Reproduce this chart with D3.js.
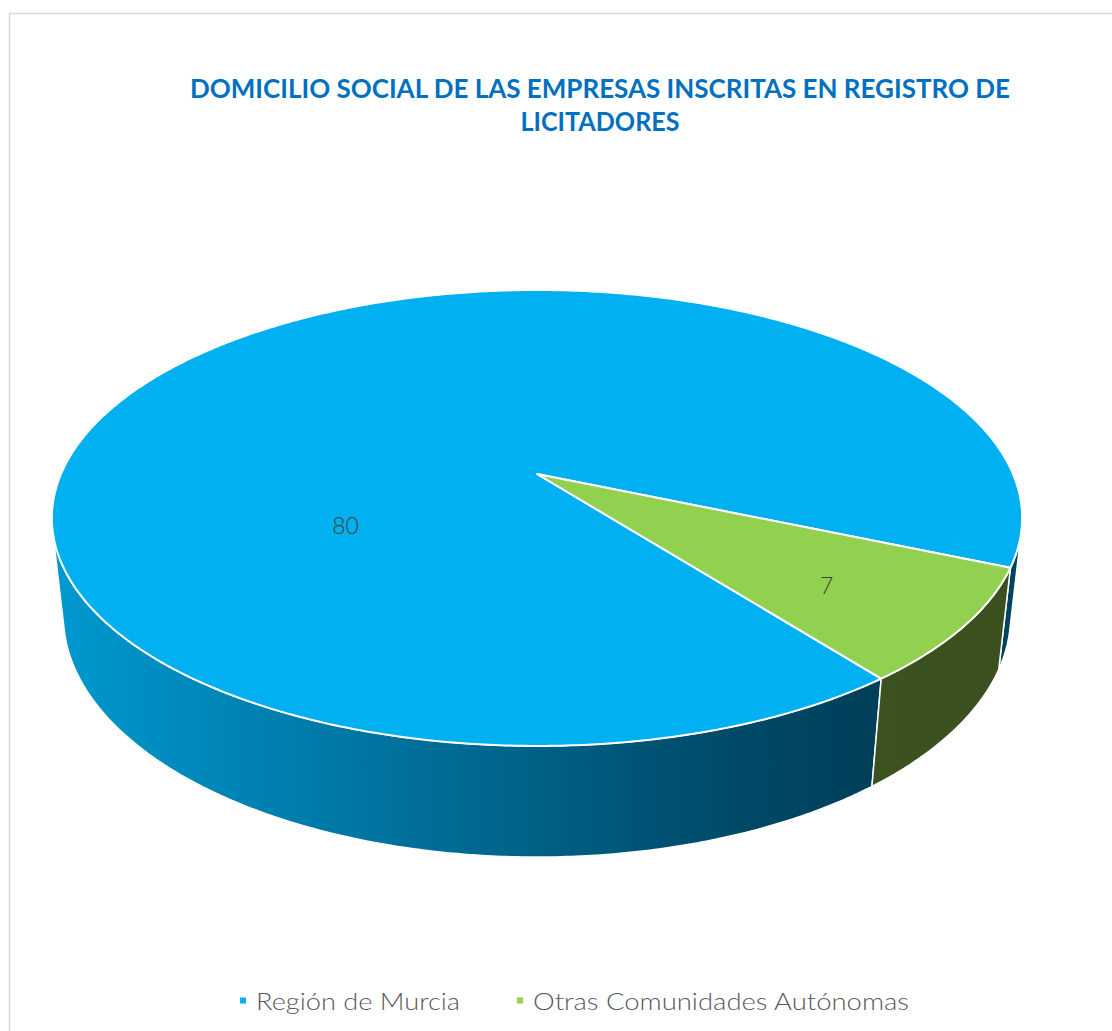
<!DOCTYPE html>
<html>
<head>
<meta charset="utf-8">
<script src="https://cdn.jsdelivr.net/npm/d3@7"></script>
<style>
  body { margin: 0; background: #fff; }
  text { font-family: Lato, "Open Sans", sans-serif; }
</style>
</head>
<body>
<div id="chart"></div>
<script>
// data
const categories = ["Región de Murcia", "Otras Comunidades Autónomas"];
const values = [80, 7];
const topColors = ["#00B0F0", "#92D050"];
const titleLines = ["DOMICILIO SOCIAL DE LAS EMPRESAS INSCRITAS EN REGISTRO DE", "LICITADORES"];

const width = 1112, height = 1031;
const rad = Math.PI / 180;

// 3d camera for the pie
const cx = 537, cy = 474;
const sinE = 0.4611, cosE = Math.sqrt(1 - sinE * sinE);
const dist = 4.6, focal = 476 * dist, depth = 0.2336;

function project(a, r, y)
{
    const u = r * Math.sin(a), v = -r * Math.cos(a);
    const yc = y * cosE - v * sinE;
    const zc = dist - (y * sinE + v * cosE);
    return [cx + focal * u / zc, cy - focal * yc / zc];
}

// side faces the camera where v > 1/(dist*cosE)
const edge = Math.acos(1 / (dist * cosE));
const visLo = Math.PI - edge, visHi = Math.PI + edge;

const svg = d3.select("#chart").append("svg")
    .attr("width", width)
    .attr("height", height);

// chart frame
svg.append("rect")
    .attr("x", 9.5).attr("y", 13.5)
    .attr("width", 1300).attr("height", 1200)
    .attr("fill", "none")
    .attr("stroke", "#d9d9d9")
    .attr("stroke-width", 1.5);

const defs = svg.append("defs");
const blueGrad = defs.append("linearGradient")
    .attr("id", "side0")
    .attr("gradientUnits", "userSpaceOnUse")
    .attr("x1", 52).attr("x2", 1022).attr("y1", 0).attr("y2", 0);
[[0, "#0099d0"], [0.35, "#00729e"], [0.67, "#004d6c"], [0.85, "#003f59"], [1, "#00445f"]]
    .forEach(s => blueGrad.append("stop").attr("offset", s[0]).attr("stop-color", s[1]));
const greenGrad = defs.append("linearGradient")
    .attr("id", "side1")
    .attr("gradientUnits", "userSpaceOnUse")
    .attr("x1", 52).attr("x2", 1022).attr("y1", 0).attr("y2", 0);
[[0, "#405a24"], [1, "#3a511f"]]
    .forEach(s => greenGrad.append("stop").attr("offset", s[0]).attr("stop-color", s[1]));

const start = 142.2 * rad;
const pie = d3.pie().sort(null).startAngle(start).endAngle(start + 2 * Math.PI);
const arcs = pie(values);

function arcPoints(a0, a1, y)
{
    const n = Math.max(2, Math.ceil(Math.abs(a1 - a0) / (0.5 * rad)));
    return d3.range(n + 1).map(i => project(a0 + (a1 - a0) * i / n, 1, y));
}

// side walls
arcs.forEach((d, i) =>
{
    [0, 2 * Math.PI].forEach(shift =>
    {
        const a0 = Math.max(d.startAngle, visLo + shift);
        const a1 = Math.min(d.endAngle, visHi + shift);
        if (a1 <= a0) return;
        const pts = arcPoints(a0, a1, 0).concat(arcPoints(a1, a0, -depth));
        svg.append("path")
            .attr("d", d3.line()(pts) + "Z")
            .attr("fill", "url(#side" + i + ")")
            .attr("stroke", "#fff")
            .attr("stroke-width", 1.5)
            .attr("stroke-linejoin", "round");
    });
});

// top faces
arcs.forEach((d, i) =>
{
    const pts = [project(0, 0, 0)].concat(arcPoints(d.startAngle, d.endAngle, 0));
    svg.append("path")
        .attr("d", d3.line()(pts) + "Z")
        .attr("fill", topColors[i])
        .attr("stroke", "#fff")
        .attr("stroke-width", 2)
        .attr("stroke-linejoin", "round");
});

// data labels (position along slice, radius)
const labelPlace = [[0.295, 0.445], [0.566, 0.72]];
arcs.forEach((d, i) =>
{
    const a = d.startAngle + (d.endAngle - d.startAngle) * labelPlace[i][0];
    const p = project(a, labelPlace[i][1], 0);
    svg.append("text")
        .attr("x", p[0]).attr("y", p[1])
        .attr("text-anchor", "middle")
        .attr("dominant-baseline", "central")
        .attr("font-size", 23)
        .attr("font-weight", 300)
        .attr("fill", "#404040")
        .text(d.data);
});

// title
const titleWidths = [820, 159];
titleLines.forEach((t, i) =>
{
    svg.append("text")
        .attr("x", 600).attr("y", 98 + i * 33)
        .attr("text-anchor", "middle")
        .attr("font-size", 27)
        .attr("font-weight", "bold")
        .attr("fill", "#0070C0")
        .attr("textLength", titleWidths[i])
        .attr("lengthAdjust", "spacingAndGlyphs")
        .text(t);
});

// legend
const legendX = [240, 517];
const legendW = [204, 376];
categories.forEach((c, i) =>
{
    svg.append("rect")
        .attr("x", legendX[i]).attr("y", 997.5)
        .attr("width", 6).attr("height", 6)
        .attr("fill", topColors[i]);
    svg.append("text")
        .attr("x", legendX[i] + 16).attr("y", 1010)
        .attr("font-size", 24)
        .attr("font-weight", 300)
        .attr("fill", "#595959")
        .attr("textLength", legendW[i])
        .attr("lengthAdjust", "spacingAndGlyphs")
        .text(c);
});
</script>
</body>
</html>
